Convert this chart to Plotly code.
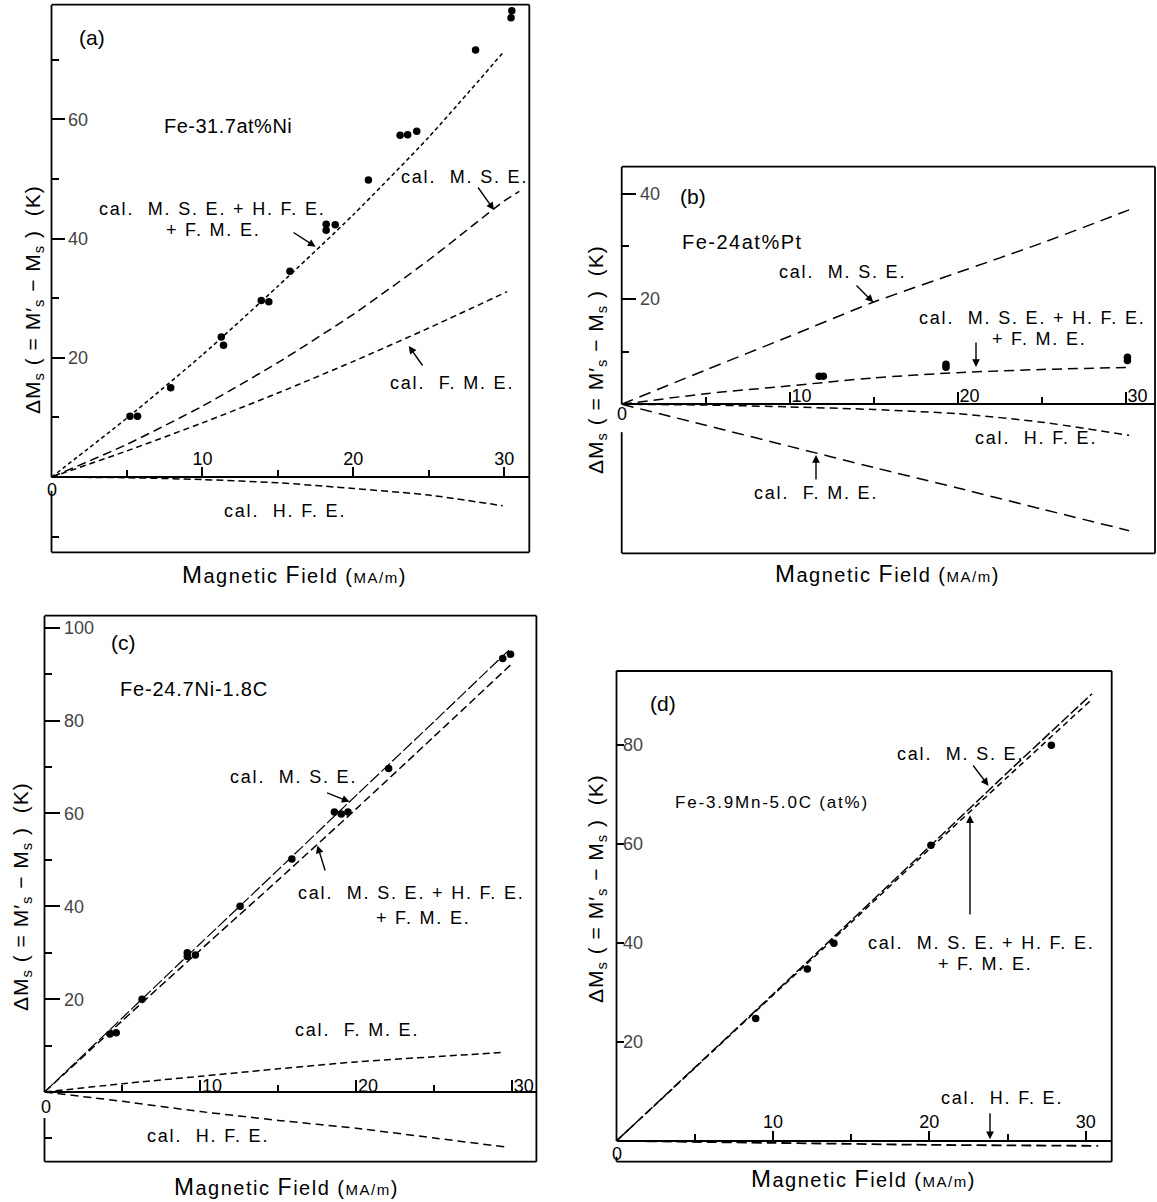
import plotly.graph_objects as go

W, H = 1157, 1202
FONT = "Liberation Sans, Arial, Helvetica, sans-serif"

# ---------------- data ----------------
# (a) Fe-31.7at%Ni
a_obs_field = [5.2, 5.7, 7.9, 11.25, 11.4, 13.9, 14.4, 15.8, 18.2, 18.2, 18.8, 21.0, 23.1, 23.6, 24.2, 28.1, 30.45, 30.5]
a_obs_dms = [10.2, 10.2, 15.0, 23.5, 22.1, 29.6, 29.4, 34.5, 42.4, 41.4, 42.3, 49.8, 57.3, 57.4, 58.0, 71.6, 77.0, 78.2]
a_field = [0, 5, 10, 15, 20, 25, 30]
a_total = [0, 9.9, 20.5, 32.0, 44.0, 57.0, 71.4]
a_mse_field = [0, 5, 10, 15, 20, 25, 30, 31]
a_mse = [0, 5.5, 11.9, 19.2, 27.3, 36.4, 46.3, 47.9]
a_fme_field = [0, 5, 10, 15, 20, 25, 30.2]
a_fme = [0, 4.4, 9.1, 14.1, 19.4, 25.0, 31.1]
a_hfe_field = [0, 5, 10, 15, 20, 25, 29.9]
a_hfe = [0, -0.1, -0.4, -0.95, -1.9, -3.0, -4.8]

# (b) Fe-24at%Pt
b_obs_field = [11.75, 12.0, 19.3, 19.3, 30.1, 30.1]
b_obs_dms = [5.3, 5.3, 7.0, 7.6, 8.3, 8.9]
b_field = [0, 5, 10, 15, 20, 25, 30.2]
b_mse = [0, 6.5, 12.9, 19.4, 25.0, 30.6, 36.9]
b_total = [0, 2.0, 3.5, 5.0, 6.0, 6.6, 7.0]
b_hfe = [0, -0.15, -0.5, -1.0, -1.8, -3.4, -5.9]
b_fme = [0, -4.0, -8.0, -12.0, -15.9, -19.9, -24.0]

# (c) Fe-24.7Ni-1.8C
c_obs_field = [4.2, 4.6, 6.26, 9.16, 9.16, 9.68, 12.55, 15.87, 18.6, 19.04, 19.47, 22.08, 29.4, 29.9]
c_obs_dms = [12.5, 12.8, 20.0, 30.0, 29.2, 29.5, 40.0, 50.2, 60.3, 59.9, 60.3, 69.7, 93.4, 94.3]
c_mse_field = [0, 5, 10, 15, 20, 25, 29.8]
c_mse = [0, 16.0, 32.0, 47.9, 63.9, 79.8, 95.2]
c_total_field = [0, 5, 10, 15, 20, 25, 30]
c_total = [0, 15.4, 30.6, 45.7, 61.0, 76.6, 92.3]
c_fme_field = [0, 5, 10, 15, 20, 25, 29.3]
c_fme = [0, 1.8, 3.4, 5.0, 6.5, 7.6, 8.5]
c_hfe_field = [0, 5, 10, 15, 20, 25, 29.5]
c_hfe = [0, -2.0, -4.2, -6.1, -7.8, -9.9, -11.8]

# (d) Fe-3.9Mn-5.0C (at%)
d_obs_field = [8.9, 12.2, 13.9, 20.1, 27.8]
d_obs_dms = [24.7, 34.7, 39.9, 59.7, 79.9]
d_field = [0, 5, 10, 15, 20, 25, 30.4]
d_mse = [0, 14.8, 29.6, 44.5, 59.4, 74.4, 90.3]
d_total = [0, 14.7, 29.4, 44.1, 58.9, 73.5, 89.2]
d_hfe_field = [0, 10, 20, 25, 30.8]
d_hfe = [0, -0.4, -0.8, -0.9, -1.0]

x_major = [10, 20, 30]
x_minor = [5, 15, 25]

# ---------------- panel geometry (pixels) ----------------
panels = {
    "a": dict(ax="", xpx=(51.5, 529.3), ypx=(4.7, 552.3), xr=(0, 31.66), yr=(-12.6, 79.2),
              ymaj=[20, 40, 60], ymin=[-10, 10, 30, 50, 70], xlab="outside", gap=2.3,
              yticklen=13, ystand=4, xstand=-5),
    "b": dict(ax="2", xpx=(621.7, 1155.0), ypx=(166.7, 553.3), xr=(0, 31.74), yr=(-28.3, 45.1),
              ymaj=[20, 40], ymin=[10, 30], xlab="outside right", gap=5.3,
              yticklen=14, ystand=5, xstand=-6),
    "c": dict(ax="3", xpx=(44.5, 536.4), ypx=(615.7, 1161.7), xr=(0, 31.56), yr=(-15.0, 102.6),
              ymaj=[20, 40, 60, 80, 100], ymin=[-10, 10, 30, 50, 70, 90], xlab="outside right", gap=5.6,
              yticklen=15, ystand=5, xstand=-8),
    "d": dict(ax="4", xpx=(616.5, 1111.7), ypx=(671.0, 1161.7), xr=(0, 31.66), yr=(-4.2, 94.9),
              ymaj=[20, 40, 60, 80], ymin=[], xlab="outside", gap=3.2,
              yticklen=7, ystand=0, xstand=-4),
}

fig = go.Figure()
layout = dict(width=W, height=H, margin=dict(l=0, r=0, t=0, b=0), showlegend=False,
              plot_bgcolor="white", paper_bgcolor="white", font=dict(family=FONT, color="black"))
shapes = []

for key, p in panels.items():
    ax = p["ax"]
    xd = [p["xpx"][0] / W, p["xpx"][1] / W]
    yd = [1 - p["ypx"][1] / H, 1 - p["ypx"][0] / H]
    y0, y1 = p["yr"]
    pos = yd[0] + (0 - y0) / (y1 - y0) * (yd[1] - yd[0])
    right = p["xlab"] != "outside"
    layout["xaxis" + ax] = dict(
        domain=xd, range=list(p["xr"]), anchor="free", position=pos, side="top",
        showline=True, linewidth=2, linecolor="black", showgrid=False, zeroline=False,
        ticks="outside", ticklen=11 if right else 9, tickwidth=1.5, tickcolor="black",
        tickmode="array", tickvals=x_major, ticktext=[str(v) for v in x_major],
        tickfont=dict(size=18, family=FONT), ticklabelposition=p["xlab"],
        ticklabelstandoff=p["xstand"],
        minor=dict(tickvals=x_minor, ticks="outside", ticklen=6, tickwidth=1.5, tickcolor="black"),
    )
    layout["yaxis" + ax] = dict(
        domain=yd, range=list(p["yr"]), anchor="x" + ax, showline=False, showgrid=False, zeroline=False,
        ticks="inside", ticklen=p["yticklen"], tickwidth=1.5, tickcolor="black",
        tickmode="array", tickvals=p["ymaj"], ticktext=[str(v) for v in p["ymaj"]],
        tickfont=dict(size=18, family=FONT), ticklabelposition="inside",
        ticklabelstandoff=p["ystand"],
        minor=dict(tickvals=p["ymin"], ticks="inside", ticklen=7, tickwidth=1.5, tickcolor="black"),
    )
    xref, yref = "x" + ax, "y" + ax
    lw = dict(color="black", width=1.8)
    shapes += [
        dict(type="line", xref=xref + " domain", yref=yref + " domain", x0=0, x1=1, y0=1, y1=1, line=lw),
        dict(type="line", xref=xref + " domain", yref=yref + " domain", x0=1, x1=1, y0=0, y1=1, line=lw),
        dict(type="line", xref=xref + " domain", yref=yref + " domain", x0=0, x1=1, y0=0, y1=0, line=lw),
        dict(type="line", xref=xref + " domain", yref=yref, x0=0, x1=0, y0=0, y1=y1, line=lw),
        dict(type="line", xref=xref + " domain", yref=yref, x0=0, x1=0, y0=y0, y1=-p["gap"], line=lw),
    ]


def curve(x, y, ax, dash, width=1.5):
    fig.add_trace(go.Scatter(x=x, y=y, mode="lines", xaxis="x" + ax, yaxis="y" + ax,
                             line=dict(color="black", width=width, dash=dash, shape="spline", smoothing=0.6),
                             hoverinfo="skip"))


def dots(x, y, ax, size=7.5):
    fig.add_trace(go.Scatter(x=x, y=y, mode="markers", xaxis="x" + ax, yaxis="y" + ax,
                             marker=dict(size=size, color="black"), hoverinfo="skip"))


# (a)
curve(a_field, a_total, "", "4px,3px")
curve(a_mse_field, a_mse, "", "9px,5px")
curve(a_fme_field, a_fme, "", "6px,4px")
curve(a_hfe_field, a_hfe, "", "7px,4px")
dots(a_obs_field, a_obs_dms, "")
# (b)
curve(b_field, b_mse, "2", "12px,7px")
curve(b_field, b_total, "2", "10px,6px")
curve(b_field, b_hfe, "2", "8px,5px")
curve(b_field, b_fme, "2", "12px,7px")
dots(b_obs_field, b_obs_dms, "2")
# (c)
curve(c_mse_field, c_mse, "3", "12px,3px", 1.2)
curve(c_total_field, c_total, "3", "8px,4px")
curve(c_fme_field, c_fme, "3", "7px,4px")
curve(c_hfe_field, c_hfe, "3", "8px,5px")
dots(c_obs_field, c_obs_dms, "3")
# (d)
curve(d_field, d_mse, "4", "10px,3px")
curve(d_field, d_total, "4", "6px,4px")
curve(d_hfe_field, d_hfe, "4", "10px,5px", 1.8)
dots(d_obs_field, d_obs_dms, "4")

ann = []


def sp(text, ls):
    return "<span style='letter-spacing:%spx'>%s</span>" % (ls, text)


def label(text, x, y, size=18, xanchor="center", angle=0):
    ann.append(dict(text=text, x=x / W, y=1 - y / H, xref="paper", yref="paper", showarrow=False,
                    xanchor=xanchor, yanchor="middle", textangle=angle,
                    font=dict(size=size, color="black", family=FONT)))


def arrow(tx, ty, hx, hy):
    ann.append(dict(text="", x=hx / W, y=1 - hy / H, xref="paper", yref="paper",
                    ax=tx - hx, ay=ty - hy, axref="pixel", ayref="pixel", showarrow=True,
                    arrowhead=2, arrowsize=1.1, arrowwidth=1.4, arrowcolor="black",
                    standoff=0, startstandoff=0))


MSE = sp("cal.  M. S. E.", 1.8)
TOT1 = sp("cal.  M. S. E. + H. F. E.", 1.8)
TOT2 = sp("+ F. M. E.", 1.8)
FME = sp("cal.  F. M. E.", 1.8)
HFE = sp("cal.  H. F. E.", 1.8)
YT = sp("ΔM<sub>s</sub> ( = M′<sub>s</sub> − M<sub>s</sub> )  (K)", 1)
XT = sp("<span style='font-size:24px'>M</span>agnetic <span style='font-size:23px'>F</span>ield "
        "(<span style='font-size:15px'>MA/m</span>)", 1.5)

# panel (a)
label("(a)", 92, 38, 21)
label(sp("Fe-31.7at%Ni", 0.5), 228, 126, 20)
label(TOT1, 212, 209)
label(TOT2, 213, 230)
arrow(292, 231.5, 315.6, 246.8)
label(MSE, 464, 177)
arrow(477, 186, 494, 210)
label(FME, 452, 383)
arrow(423.6, 367, 408.8, 346)
label(HFE, 285, 511)
label("0", 52, 490)
label(XT, 294, 574, 20)
label(YT, 34, 300, 21, angle=-90)

# panel (b)
label("(b)", 693, 197, 21)
label(sp("Fe-24at%Pt", 1.5), 742, 242, 20)
label(MSE, 842, 272)
arrow(855, 284, 873.3, 302.3)
label(TOT1, 1032, 318)
label(TOT2, 1039, 339)
arrow(976, 341, 976, 367)
label(HFE, 1036, 438)
label(FME, 816, 493)
arrow(816, 481, 816, 455)
label("0", 622, 414)
label(XT, 887, 573, 20)
label(YT, 597, 360, 21, angle=-90)

# panel (c)
label("(c)", 123, 642, 21)
label(sp("Fe-24.7Ni-1.8C", 0.8), 194, 689, 20)
label(MSE, 293, 777)
arrow(325.6, 792.3, 349.6, 801.8)
label(TOT1, 411, 893)
label(TOT2, 423, 918)
arrow(325.6, 872, 317.4, 845.5)
label(FME, 357, 1030)
label(HFE, 208, 1136)
label("0", 46, 1107)
label(XT, 286, 1186, 20)
label(YT, 22, 897, 21, angle=-90)

# panel (d)
label("(d)", 663, 703, 21)
label(sp("Fe-3.9Mn-5.0C (at%)", 1.8), 772, 802, 17)
label(MSE, 960, 754)
arrow(972, 764, 988.5, 785.7)
label(TOT1, 981, 943)
label(TOT2, 985, 964)
arrow(970, 916, 970, 815.3)
label(HFE, 1002, 1098)
arrow(990, 1111.7, 990, 1139.3)
label("0", 617, 1154)
label(XT, 863, 1178, 20)
label(YT, 597, 889, 21, angle=-90)

layout["shapes"] = shapes
layout["annotations"] = ann
fig.update_layout(**layout)
fig.write_html("out.html")
